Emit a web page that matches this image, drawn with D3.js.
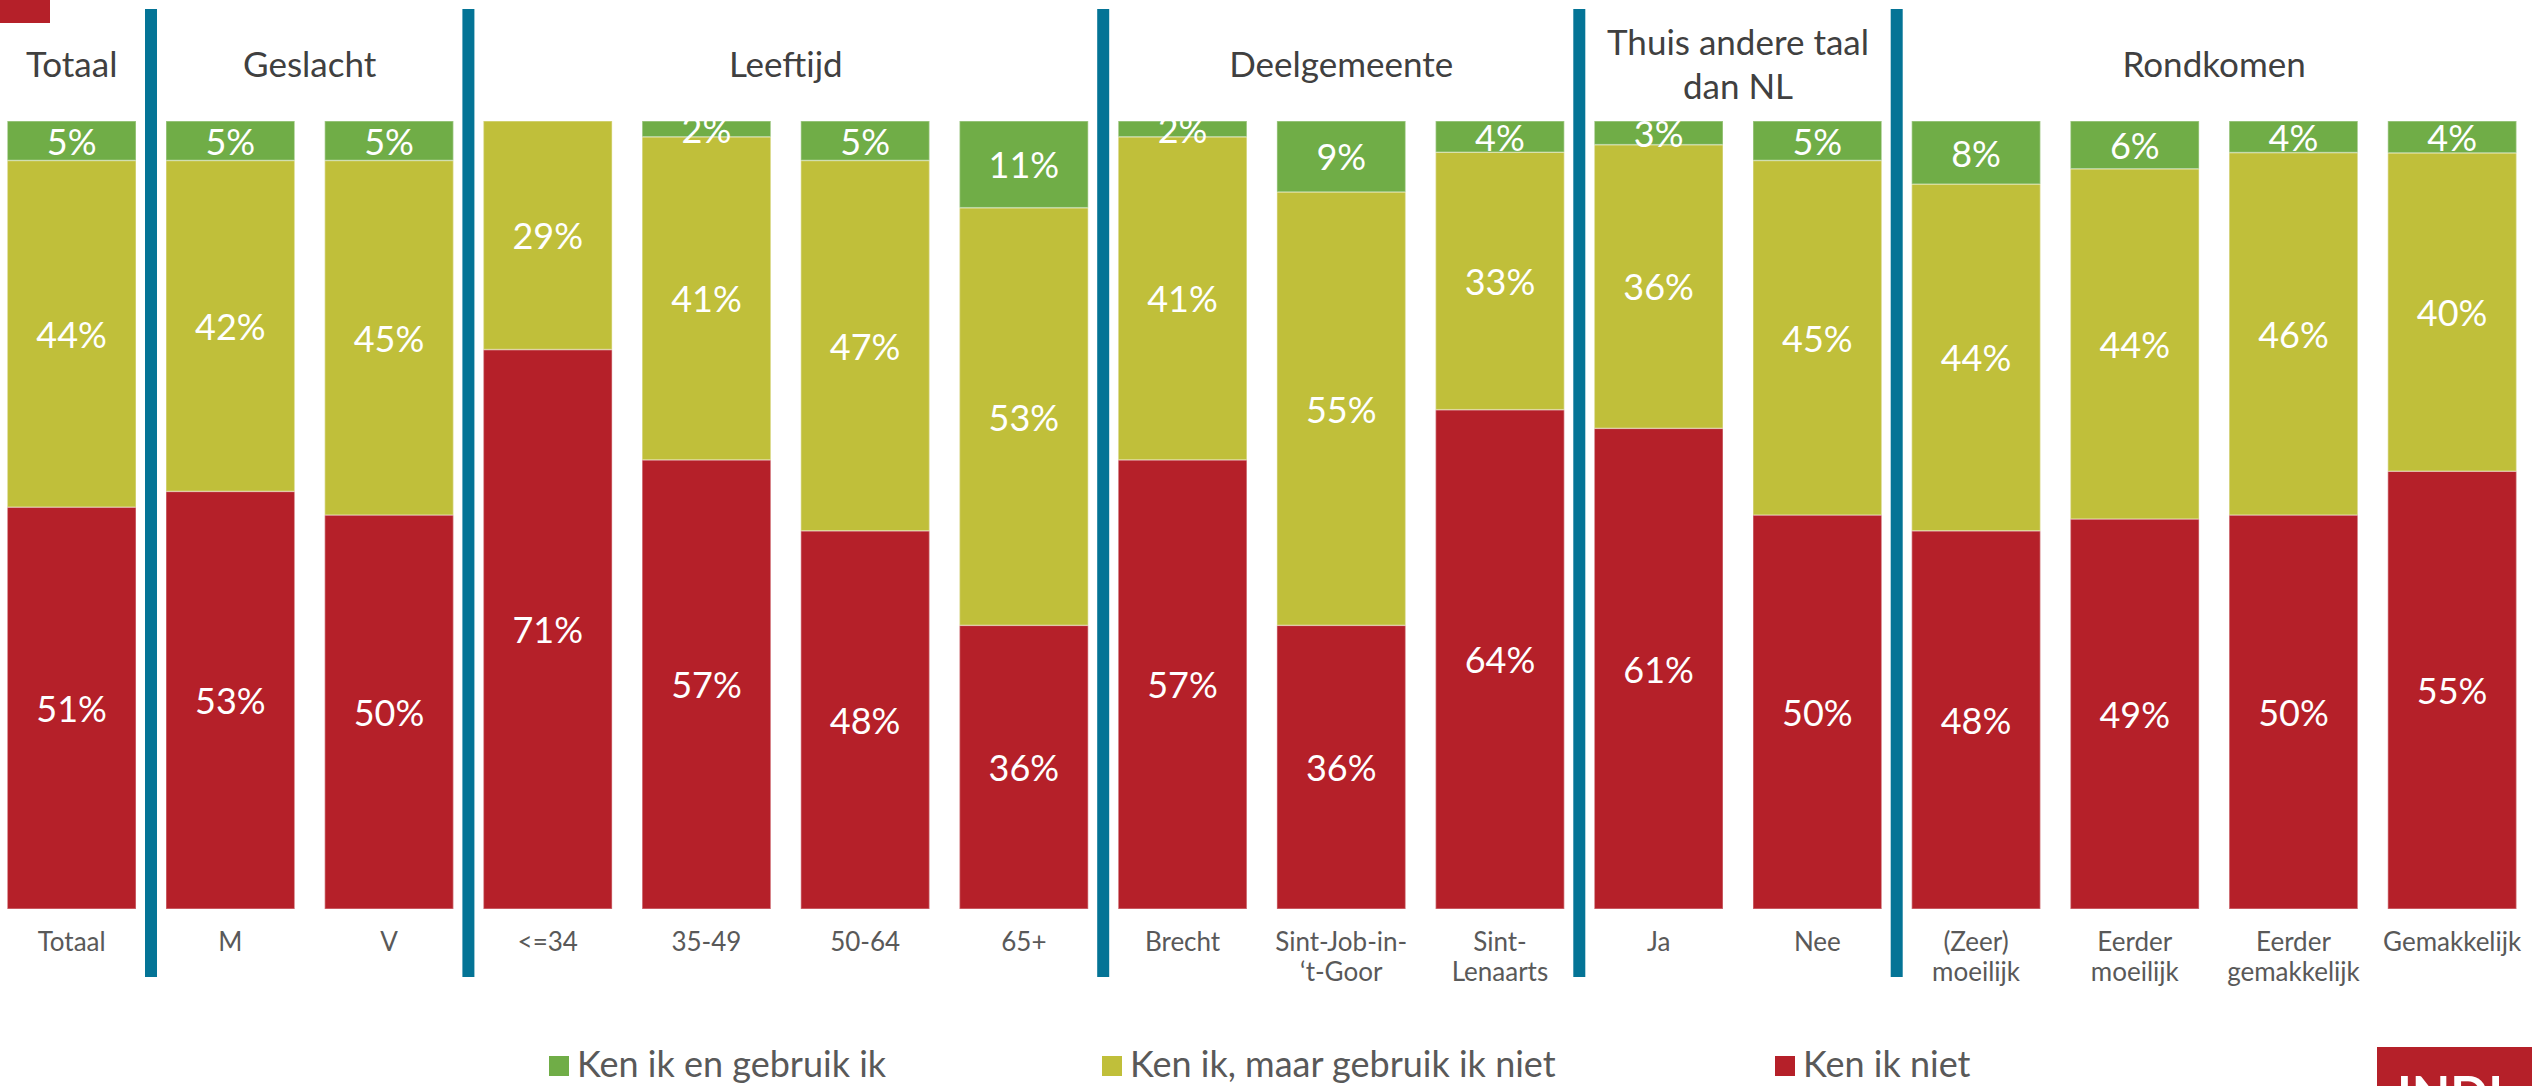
<!DOCTYPE html>
<html>
<head>
<meta charset="utf-8">
<script src="https://cdn.jsdelivr.net/npm/d3@7"></script>
<style>
  html, body { margin: 0; padding: 0; background: #fff; overflow: hidden; }
  svg { display: block; }
  text { font-family: Lato, "Open Sans", sans-serif; }
</style>
</head>
<body>
<svg id="chart" width="2532" height="1086"></svg>
<script>
// ---- data ----
const categories = ["Totaal","M","V","<=34","35-49","50-64","65+","Brecht","Sint-Job-in-‘t-Goor","Sint-Lenaarts","Ja","Nee","(Zeer) moeilijk","Eerder moeilijk","Eerder gemakkelijk","Gemakkelijk"];
const categoryLines = [["Totaal"],["M"],["V"],["<=34"],["35-49"],["50-64"],["65+"],["Brecht"],["Sint-Job-in-","‘t-Goor"],["Sint-","Lenaarts"],["Ja"],["Nee"],["(Zeer)","moeilijk"],["Eerder","moeilijk"],["Eerder","gemakkelijk"],["Gemakkelijk"]];
const groupNames = [["Totaal"],["Geslacht"],["Leeftijd"],["Deelgemeente"],["Thuis andere taal","dan NL"],["Rondkomen"]];
const groupSizes = [1,2,4,3,2,4];
const seriesNames = ["Ken ik en gebruik ik","Ken ik, maar gebruik ik niet","Ken ik niet"];
const kenNiet        = [51,53,50,71,57,48,36,57,36,64,61,50,48,49,50,55];
const kenNietGebruik = [44,42,45,29,41,47,53,41,55,33,36,45,44,44,46,40];
const kenEnGebruik   = [5,5,5,0,2,5,11,2,9,4,3,5,8,6,4,4];
const seriesColors = ["#70ad47","#c0bf3a","#b52029"];

// ---- build ----
const svg = d3.select("#chart");

const rows = categories.map((c,i) => ({
  cat: c,
  niet: kenNiet[i],
  maar: kenNietGebruik[i],
  gebruik: kenEnGebruik[i]
}));
const keys = ["niet","maar","gebruik"];
const keyColor = {niet: seriesColors[2], maar: seriesColors[1], gebruik: seriesColors[0]};

const x = d3.scaleBand().domain(categories).range([7.3, 2516.5]).paddingInner(0.189).paddingOuter(0);
const y = d3.scaleLinear().domain([0,1]).range([909, 121]);

const stack = d3.stack().keys(keys).offset(d3.stackOffsetExpand);
const stacked = stack(rows);

// top-left decoration
svg.append("rect").attr("x",0).attr("y",0).attr("width",50).attr("height",23).attr("fill","#b52029");

const layers = svg.append("g").selectAll("g").data(stacked).join("g")
  .attr("fill", d => keyColor[d.key]);

layers.selectAll("rect").data(d => d.map(p => ({p, key: d.key})))
  .join("rect")
  .attr("x", d => x(d.p.data.cat))
  .attr("width", x.bandwidth())
  .attr("y", d => y(d.p[1]))
  .attr("height", d => y(d.p[0]) - y(d.p[1]))
  .attr("stroke", "rgba(255,255,255,0.35)")
  .attr("stroke-width", 1.5);

// value labels
const labels = svg.append("g");
stacked.forEach(layer => {
  layer.forEach(p => {
    const v = p.data[layer.key];
    if (!v) return;
    labels.append("text")
      .attr("x", x(p.data.cat) + x.bandwidth()/2)
      .attr("y", (y(p[0]) + y(p[1]))/2)
      .attr("text-anchor","middle")
      .attr("dominant-baseline","central")
      .attr("fill","#fff")
      .attr("font-size", 36)
      .text(v + "%");
  });
});

// category labels
const catG = svg.append("g");
categories.forEach((c,i) => {
  const t = catG.append("text")
    .attr("x", x(c) + x.bandwidth()/2)
    .attr("y", 951)
    .attr("text-anchor","middle")
    .attr("fill","#595959")
    .attr("font-size", 26);
  categoryLines[i].forEach((ln,j) => {
    t.append("tspan").attr("x", x(c) + x.bandwidth()/2).attr("y", 951 + j*30).text(ln);
  });
});

// groups: separators and headers
let idx = 0;
const step = x.step();
groupSizes.forEach((n,gi) => {
  const first = categories[idx], last = categories[idx+n-1];
  const left = x(first), right = x(last) + x.bandwidth();
  const cx = (left + right)/2;
  const lines = groupNames[gi];
  const t = svg.append("text").attr("text-anchor","middle").attr("fill","#404040").attr("font-size",35);
  const base = lines.length === 1 ? [77] : [55, 99];
  lines.forEach((ln,j) => t.append("tspan").attr("x", cx).attr("y", base[j]).text(ln));
  if (gi < groupSizes.length - 1) {
    const sepX = right + (step - x.bandwidth())/2;
    svg.append("rect").attr("x", sepX - 6).attr("y", 9).attr("width", 12).attr("height", 968).attr("fill","#047496");
  }
  idx += n;
});

// legend
const legendX = [549, 1102, 1775];
const legend = svg.append("g");
seriesNames.forEach((s,i) => {
  legend.append("rect").attr("x", legendX[i]).attr("y", 1056).attr("width", 20).attr("height", 20).attr("fill", seriesColors[i]);
  legend.append("text").attr("x", legendX[i] + 28).attr("y", 1077).attr("fill","#595959").attr("font-size",36).text(s);
});

// bottom-right logo block (cut off by page edge, as in the reference)
svg.append("rect").attr("x",2377).attr("y",1047).attr("width",155).attr("height",39).attr("fill","#b52029");
svg.append("text").attr("x",2450).attr("y",1112).attr("text-anchor","middle").attr("fill","#fff")
  .attr("font-size",50).attr("font-weight","bold").text("INDI");
</script>
</body>
</html>
